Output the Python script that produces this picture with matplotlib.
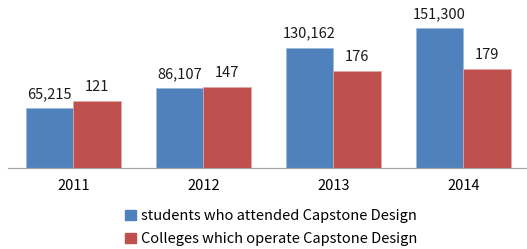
import numpy as np
import matplotlib.pyplot as plt
from matplotlib.patches import Patch

years = ['2011', '2012', '2013', '2014']
students = [65215, 86107, 130162, 151300]
colleges = [121, 147, 176, 179]

blue = '#4F81BD'
red = '#C0504D'

plt.rcParams['font.family'] = ['Noto Sans CJK KR', 'DejaVu Sans']

fig = plt.figure(figsize=(5.27, 2.49), dpi=100)
ax = fig.add_axes([8.3 / 527, 1 - 168.3 / 249, 520 / 527, 168.3 / 249])
ax2 = ax.twinx()

x = np.arange(len(years))
w = 0.364

ax.bar(x - w / 2, students, w, color=blue, edgecolor='#9DB8DB', linewidth=0.5)
ax2.bar(x + w / 2, colleges, w, color=red, edgecolor='#E0A8A6', linewidth=0.5)

ax.set_ylim(0, 181400)
ax2.set_ylim(0, 303.5)
ax.set_xlim(-0.5, 3.5)

for xi, v in zip(x, students):
    ax.annotate(f'{v:,}', (xi - w / 2, v), xytext=(0, 5), textcoords='offset points',
                ha='center', va='bottom', fontsize=10.5, color='#1a1a1a')
for xi, v in zip(x, colleges):
    ax2.annotate(f'{v}', (xi + w / 2, v), xytext=(0, 5), textcoords='offset points',
                 ha='center', va='bottom', fontsize=10.5, color='#1a1a1a')

for a in (ax, ax2):
    for s in ['top', 'right', 'left']:
        a.spines[s].set_visible(False)
    a.spines['bottom'].set_color('#A6A6A6')
    a.set_yticks([])

ax.set_xticks(x)
ax.set_xticklabels(years, fontsize=10.5)
ax.tick_params(axis='x', length=0, pad=8)

handles = [Patch(color=blue), Patch(color=red)]
labels = ['students who attended Capstone Design', 'Colleges which operate Capstone Design']
fig.legend(handles, labels, loc='upper left', bbox_to_anchor=(118 / 527, 1 - 202 / 249),
           frameon=False, fontsize=10.5, handlelength=0.7, handleheight=0.7,
           handletextpad=0.4, labelspacing=0.62, borderpad=0)

fig.savefig('out.png', dpi=100)
